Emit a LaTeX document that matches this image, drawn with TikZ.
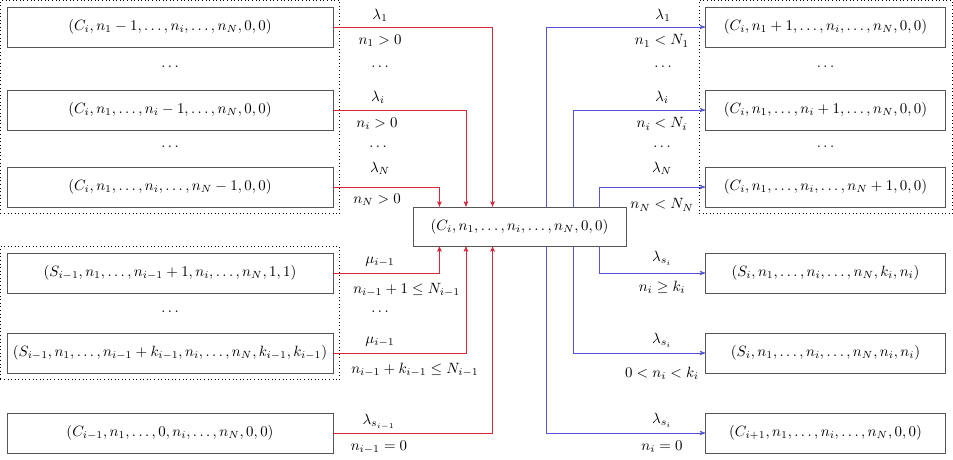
\documentclass[tikz,border=0pt]{standalone}
\usetikzlibrary{arrows,positioning,fit}
\definecolor{edgered}{RGB}{214,40,57}
\definecolor{edgeblue}{RGB}{85,85,215}
\definecolor{boxgray}{RGB}{85,85,85}
\tikzset{
	%Define standard arrow tip
	>=stealth',
	%Define style for state boxes
	state/.style={
		rectangle,
		draw=boxgray, thin,
		minimum height=26.9pt,
		inner sep=0pt},
	wide/.style={state, minimum width=219.1pt},
	narrow/.style={state, minimum width=161.3pt},
	% Define style for the dotted groups
	group/.style={draw, thin, dotted, inner sep=4.2pt},
	% Define arrow styles
	inpil/.style={->, thin, draw=edgered},
	outpil/.style={->, thin, draw=edgeblue}
}
\begin{document}
\begin{tikzpicture}[x=0.672pt, y=-0.672pt]
	\useasboundingbox (0,0) rectangle (953,460);
	
	% states leading into the current state
	\node[wide] (inC1) at (170,27) {$(C_i, n_1-1, \dots, n_i, \dots, n_N, 0, 0)$};
	\node (dotA) at (170,67) {$\dots$};
	\node[wide] (inCi) at (170,110) {$(C_i, n_1, \dots, n_i-1, \dots, n_N, 0, 0)$};
	\node (dotB) at (170,147) {$\dots$};
	\node[wide] (inCN) at (170,187) {$(C_i, n_1, \dots, n_i, \dots, n_N-1, 0, 0)$};
	\node[wide] (inS1) at (170,273) {$(S_{i-1}, n_1, \dots, n_{i-1}+1, n_i, \dots, n_N, 1, 1)$};
	\node (dotC) at (170,312) {$\dots$};
	\node[wide] (inSk) at (170,353) {$(S_{i-1}, n_1, \dots, n_{i-1}+k_{i-1}, n_i, \dots, n_N, k_{i-1}, k_{i-1})$};
	\node[wide] (inPrev) at (170,433) {$(C_{i-1}, n_1, \dots, 0, n_i, \dots, n_N, 0, 0)$};
	
	% current state
	\node[state, minimum width=143.1pt, minimum height=26.2pt] (cur) at (519.5,226.5) {$(C_i, n_1, \dots, n_i, \dots, n_N, 0, 0)$};
	
	% states reached from the current state
	\node[narrow] (outC1) at (825.5,27) {$(C_i, n_1+1, \dots, n_i, \dots, n_N, 0, 0)$};
	\node (dotD) at (825.5,67) {$\dots$};
	\node[narrow] (outCi) at (825.5,110) {$(C_i, n_1, \dots, n_i+1, \dots, n_N, 0, 0)$};
	\node (dotE) at (825.5,147) {$\dots$};
	\node[narrow] (outCN) at (825.5,187) {$(C_i, n_1, \dots, n_i, \dots, n_N+1, 0, 0)$};
	\node[narrow] (outS1) at (825.5,273) {$(S_i, n_1, \dots, n_i, \dots, n_N, k_i, n_i)$};
	\node[narrow] (outS2) at (825.5,353) {$(S_i, n_1, \dots, n_i, \dots, n_N, n_i, n_i)$};
	\node[narrow] (outNext) at (825.5,433) {$(C_{i+1}, n_1, \dots, n_i, \dots, n_N, 0, 0)$};
	
	% dotted groups
	\node[group, fit=(inC1) (inCN)] (grpA) {};
	\node[group, fit=(inS1) (inSk)] (grpB) {};
	\node[group, fit=(outC1) (outCN)] (grpC) {};
	
	% incoming transitions
	\draw[inpil] (inC1.east) -| ([xshift=-18.1pt]cur.north);
	\draw[inpil] (inCi.east) -| ([xshift=-36pt]cur.north);
	\draw[inpil] (inCN.east) -| ([xshift=-53.8pt]cur.north);
	\draw[inpil] (inS1.east) -| ([xshift=-53.8pt]cur.south);
	\draw[inpil] (inSk.east) -| ([xshift=-36pt]cur.south);
	\draw[inpil] (inPrev.east) -| ([xshift=-18.1pt]cur.south);
	
	% outgoing transitions
	\draw[outpil] ([xshift=18.1pt]cur.north) |- (outC1.west);
	\draw[outpil] ([xshift=36pt]cur.north) |- (outCi.west);
	\draw[outpil] ([xshift=53.8pt]cur.north) |- (outCN.west);
	\draw[outpil] ([xshift=53.8pt]cur.south) |- (outS1.west);
	\draw[outpil] ([xshift=36pt]cur.south) |- (outS2.west);
	\draw[outpil] ([xshift=18.1pt]cur.south) |- (outNext.west);
	
	% rates and conditions, left
	\node (rA) at (380,15) {$\lambda_1$};
	\node (cA) at (380,41) {$n_1 > 0$};
	\node (dA) at (380,67) {$\dots$};
	\node (rB) at (378,97) {$\lambda_i$};
	\node (cB) at (377,124) {$n_i > 0$};
	\node (dB) at (378,147) {$\dots$};
	\node (rC) at (380,168) {$\lambda_N$};
	\node (cC) at (377,200) {$n_N > 0$};
	\node (rD) at (380,262) {$\mu_{i-1}$};
	\node[anchor=west] (cD) at (348,290) {$n_{i-1}+1 \le N_{i-1}$};
	\node (dC) at (380,312) {$\dots$};
	\node (rE) at (380,342) {$\mu_{i-1}$};
	\node[anchor=west] (cE) at (346,370) {$n_{i-1}+k_{i-1} \le N_{i-1}$};
	\node (rF) at (379,422) {$\lambda_{s_{i-1}}$};
	\node (cF) at (379,447) {$n_{i-1} = 0$};
	
	% rates and conditions, right
	\node (rG) at (663,15) {$\lambda_1$};
	\node (cG) at (662,41) {$n_1 < N_1$};
	\node (dD) at (663,67) {$\dots$};
	\node (rH) at (662,97) {$\lambda_i$};
	\node (cH) at (662,124) {$n_i < N_i$};
	\node (dE) at (662,147) {$\dots$};
	\node (rI) at (662,168) {$\lambda_N$};
	\node (cI) at (662,205) {$n_N < N_N$};
	\node (rJ) at (662,258) {$\lambda_{s_i}$};
	\node (cJ) at (662,287) {$n_i \ge k_i$};
	\node (rK) at (662,340) {$\lambda_{s_i}$};
	\node (cK) at (662,373) {$0 < n_i < k_i$};
	\node (rL) at (662,420) {$\lambda_{s_i}$};
	\node (cL) at (662,447) {$n_i = 0$};
	
\end{tikzpicture}
\end{document}
